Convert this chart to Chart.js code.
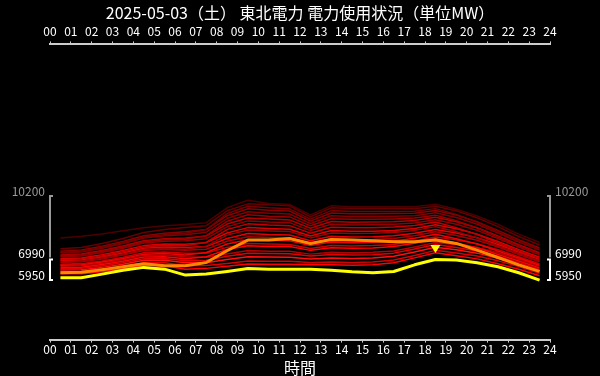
<!DOCTYPE html>
<html><head><meta charset="utf-8">
<script src="https://cdn.jsdelivr.net/npm/chart.js@4"></script>
<style>html,body{margin:0;padding:0;background:#000;}canvas{display:block;}</style>
</head><body>
<canvas id="c" width="600" height="376"></canvas>
<script>
const titleText = '2025-05-03（土） 東北電力 電力使用状況（単位MW）';
const axisTitle = '時間';
const hours = [0.5,1.5,2.5,3.5,4.5,5.5,6.5,7.5,8.5,9.5,10.5,11.5,12.5,13.5,14.5,15.5,16.5,17.5,18.5,19.5,20.5,21.5,22.5,23.5];
const tickLabels = ['00','01','02','03','04','05','06','07','08','09','10','11','12','13','14','15','16','17','18','19','20','21','22','23','24'];
const markValues = [10200, 6990, 5950];

const today     = [6070,6070,6250,6450,6590,6500,6200,6250,6380,6530,6500,6500,6500,6450,6370,6320,6380,6720,6990,6960,6820,6620,6320,5950];
const yesterday = [6320,6340,6470,6620,6770,6670,6670,6840,7430,7970,7980,8050,7800,8000,7970,7930,7880,7880,7970,7800,7460,7090,6720,6390];

const p01 = [6270,6270,6370,6520,6700,6670,6500,6540,6650,6760,6750,6750,6720,6720,6700,6720,6820,7070,7330,7180,7020,6770,6500,6170];
const p02 = [6370,6380,6480,6640,6830,6820,6670,6680,6790,6910,6900,6900,6840,6860,6840,6860,6960,7190,7450,7320,7170,6920,6630,6290];
const p03 = [6460,6470,6590,6750,6950,6950,6820,6830,6990,7130,7110,7100,7010,7070,7040,7060,7150,7370,7610,7480,7310,7050,6750,6400];
const p04 = [6520,6540,6660,6830,7030,7040,6920,6950,7150,7310,7290,7280,7160,7240,7220,7230,7310,7520,7750,7600,7420,7150,6830,6480];
const p05 = [6650,6670,6800,6980,7200,7220,7130,7100,7270,7440,7410,7400,7260,7350,7330,7350,7420,7620,7850,7740,7590,7330,7000,6640];
const p06 = [6590,6600,6730,6900,7110,7130,7030,7130,7490,7680,7650,7640,7450,7580,7560,7570,7640,7810,8040,7820,7580,7240,6910,6560];
const p07 = [6750,6780,6910,7100,7330,7370,7300,7320,7600,7800,7770,7750,7550,7700,7670,7690,7750,7910,8130,7980,7780,7480,7130,6760];
const p08 = [6700,6720,6860,7040,7260,7290,7210,7340,7770,7990,7950,7930,7690,7870,7840,7860,7920,8060,8270,8040,7770,7410,7060,6700];
const p09 = [6840,6870,7010,7210,7440,7490,7450,7510,7910,8140,8100,8080,7810,8020,7990,8000,8050,8190,8390,8200,7960,7620,7240,6870];
const p10 = [6930,6960,7110,7320,7560,7620,7590,7640,8050,8300,8250,8230,7940,8160,8130,8140,8190,8310,8510,8330,8090,7750,7360,6980];
const p11 = [6880,6910,7060,7250,7490,7550,7510,7660,8220,8480,8430,8400,8080,8330,8300,8310,8350,8460,8650,8390,8080,7670,7290,6910];
const p12 = [7030,7070,7230,7440,7690,7770,7760,7840,8330,8600,8550,8520,8180,8450,8420,8420,8460,8560,8740,8540,8270,7900,7490,7100];
const p13 = [6980,7020,7170,7380,7620,7700,7680,7860,8500,8790,8730,8700,8320,8620,8590,8590,8630,8710,8880,8600,8250,7820,7420,7040];
const p14 = [7130,7170,7340,7560,7820,7910,7930,8040,8640,8940,8880,8850,8450,8770,8730,8740,8770,8830,9000,8770,8460,8050,7620,7220];
const p15 = [7220,7270,7440,7670,7940,8040,8080,8170,8780,9090,9030,8990,8570,8910,8870,8880,8900,8960,9120,8900,8590,8180,7740,7330];
const p16 = [7180,7230,7400,7620,7890,7990,8010,8190,8920,9250,9180,9140,8690,9050,9020,9020,9040,9080,9230,8950,8580,8120,7690,7290];
const p17 = [7320,7370,7560,7790,8070,8190,8240,8370,9060,9400,9330,9290,8810,9200,9160,9160,9180,9200,9350,9110,8770,8330,7870,7460];
const p18 = [7400,7470,7660,7900,8190,8320,8390,8500,9200,9550,9480,9440,8930,9340,9300,9300,9310,9330,9470,9240,8900,8460,7990,7570];
const p19 = [7350,7410,7600,7840,8120,8240,8310,8500,9310,9680,9600,9550,9030,9460,9420,9420,9420,9430,9560,9270,8870,8390,7920,7500];
const p20 = [7530,7600,7800,8050,8350,8500,8600,8700,9450,9800,9750,9700,9150,9600,9560,9560,9560,9550,9680,9450,9100,8650,8150,7720];
const p21 = [8080,8160,8280,8440,8590,8690,8760,8850,9600,9980,9820,9770,9240,9700,9650,9650,9660,9650,9780,9530,9190,8770,8270,7850];

const pastSeries = [p01,p02,p03,p04,p05,p06,p07,p08,p09,p10,p11,p12,p13,p14,p15,p16,p17,p18,p19,p20,p21];
const pastColors = ['#ff0000','#d80000','#ff1010','#e00000','#b40000','#ff0000','#c80000','#f00000','#a80000','#e60000','#9c0000','#dc0000','#c00000','#900000','#b00000','#960000','#800000','#8a0000','#740000','#640000','#4a0000'];

const yMin = 2940, yMax = 17860;

const toPts = arr => arr.map((v, i) => ({x: hours[i], y: v}));

const datasets = [
  {label:'today', data: toPts(today), borderColor:'#ffff00', borderWidth:3, order:0},
  {label:'yesterday', data: toPts(yesterday), borderColor:'#ff8800', borderWidth:3, order:1}
];
pastSeries.forEach((s, i) => {
  datasets.push({label:'d'+i, data: toPts(s), borderColor: pastColors[i], borderWidth:1.5, order: 2 + (pastSeries.length - i)});
});
datasets.forEach(d => { d.pointRadius = 0; d.tension = 0; d.fill = false; d.borderJoinStyle = 'round'; d.xAxisID = 'x'; d.yAxisID = 'y'; });

Chart.defaults.font.family = "'Noto Sans CJK JP', 'Noto Sans', sans-serif";

const bgPlugin = {
  id: 'bg',
  beforeDraw(chart) {
    const c = chart.ctx; c.save(); c.fillStyle = '#000'; c.fillRect(0, 0, chart.width, chart.height); c.restore();
  }
};

const bracketPlugin = {
  id: 'brackets',
  afterDraw(chart) {
    const c = chart.ctx, ys = chart.scales.y, a = chart.chartArea;
    const yHi = ys.getPixelForValue(markValues[0]);
    const yMid = ys.getPixelForValue(markValues[1]);
    const yLo = ys.getPixelForValue(markValues[2]);
    c.save();
    c.lineWidth = 2;
    [[a.left, -1], [a.right, 1]].forEach(([x, dir]) => {
      c.strokeStyle = '#999999';
      c.beginPath();
      c.moveTo(x - dir * 3, yHi); c.lineTo(x, yHi); c.lineTo(x, yMid - 2);
      c.stroke();
      c.strokeStyle = '#ffffff';
      c.beginPath();
      c.moveTo(x - dir * 3, yMid); c.lineTo(x, yMid); c.lineTo(x, yLo); c.lineTo(x - dir * 3, yLo);
      c.stroke();
      c.font = "12px 'Noto Sans CJK JP', 'Noto Sans', sans-serif";
      c.textBaseline = 'alphabetic';
      c.textAlign = dir < 0 ? 'right' : 'left';
      const lx = x + dir * 5;
      c.fillStyle = '#999999'; c.fillText(String(markValues[0]), lx, yHi);
      c.fillStyle = '#ffffff'; c.fillText(String(markValues[1]), lx, yMid - 1);
      c.fillText(String(markValues[2]), lx, yLo);
    });
    let mi = 0; today.forEach((v, i) => { if (v > today[mi]) mi = i; });
    const px = chart.scales.x.getPixelForValue(hours[mi]);
    const py = ys.getPixelForValue(today[mi]);
    c.fillStyle = '#ffff00';
    c.beginPath();
    c.moveTo(px - 5, py - 14.5); c.lineTo(px + 5, py - 14.5); c.lineTo(px, py - 6.5); c.closePath();
    c.fill();
    c.restore();
  }
};

const xCommon = (pos, pad) => ({
  type: 'linear', position: pos, min: 0, max: 24,
  ticks: {stepSize: 1, autoSkip: false, maxRotation: 0, minRotation: 0, color: '#ffffff', font: {size: 12}, padding: pad,
    callback: v => tickLabels[v]},
  grid: {display: true, drawOnChartArea: false, drawTicks: true, tickLength: 3, color: '#cccccc', lineWidth: 1},
  border: {display: true, color: '#cccccc', width: 2}
});

const xBottom = xCommon('bottom', 0);
xBottom.title = {display: true, text: axisTitle, color: '#ffffff', font: {size: 16, lineHeight: 1.0}, padding: {top: 3, bottom: 0}};
const xTop = xCommon('top', 3);

new Chart(document.getElementById('c').getContext('2d'), {
  type: 'line',
  data: {datasets},
  options: {
    responsive: false, animation: false, devicePixelRatio: 1,
    layout: {padding: {left: 50, right: 50, top: 0, bottom: 0}},
    plugins: {
      legend: {display: false}, tooltip: {enabled: false},
      title: {display: true, text: titleText, color: '#ffffff', font: {size: 16, weight: 'normal', lineHeight: 1.0}, padding: {top: 5, bottom: 0}}
    },
    scales: {
      x: xBottom,
      xTop: xTop,
      y: {display: false, min: yMin, max: yMax}
    }
  },
  plugins: [bgPlugin, bracketPlugin]
});
</script>
</body></html>
